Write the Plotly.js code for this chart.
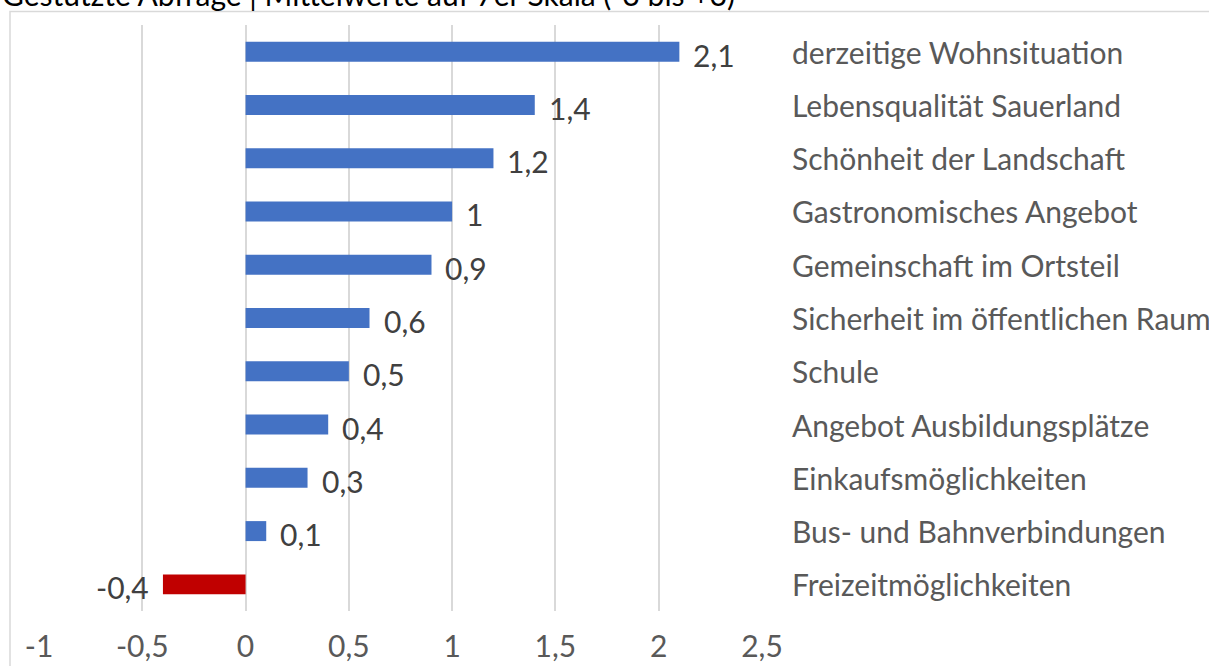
<!DOCTYPE html>
<html>
<head>
<meta charset="utf-8">
<script src="https://cdn.plot.ly/plotly-3.0.1.min.js"></script>
<style>
html,body{margin:0;padding:0;background:#fff;overflow:hidden;}
#chart{width:1209px;height:666px;}
</style>
</head>
<body>
<div id="chart"></div>
<script>
const categories = [
  "derzeitige Wohnsituation",
  "Lebensqualität Sauerland",
  "Schönheit der Landschaft",
  "Gastronomisches Angebot",
  "Gemeinschaft im Ortsteil",
  "Sicherheit im öffentlichen Raum",
  "Schule",
  "Angebot Ausbildungsplätze",
  "Einkaufsmöglichkeiten",
  "Bus- und Bahnverbindungen",
  "Freizeitmöglichkeiten"
];
const values = [2.1, 1.4, 1.2, 1.0, 0.9, 0.6, 0.5, 0.4, 0.3, 0.1, -0.4];
const valueLabels = ["2,1", "1,4", "1,2", "1", "0,9", "0,6", "0,5", "0,4", "0,3", "0,1", "-0,4"];
const tickValues = [-1, -0.5, 0, 0.5, 1, 1.5, 2, 2.5];
const tickLabels = ["-1", "-0,5", "0", "0,5", "1", "1,5", "2", "2,5"];
const titleText = "Gestützte Abfrage | Mittelwerte auf 7er Skala (-3 bis +3)";

const FONT = "Lato, 'Open Sans', sans-serif";
const W = 1209, H = 666;
const L = 39, R = 447, T = 25, B = 55;
const pw = W - L - R, ph = H - T - B;

const colors = values.map(v => v < 0 ? "#C00000" : "#4472C4");

const trace = {
  type: "bar",
  orientation: "h",
  x: values,
  y: categories,
  marker: {color: colors, line: {width: 0}},
  hoverinfo: "none"
};

const annotations = values.map((v, i) => ({
  x: v, y: categories[i], xref: "x", yref: "y",
  text: valueLabels[i], showarrow: false,
  xanchor: v < 0 ? "right" : "left",
  xshift: v < 0 ? -12 : 12, yshift: -3,
  font: {family: FONT, size: 30, color: "#404040"}
}));
categories.forEach(c => annotations.push({
  x: (790 - L) / pw, xref: "paper", xanchor: "left",
  y: c, yref: "y", yanchor: "middle", yshift: 0,
  text: c, showarrow: false,
  font: {family: FONT, size: 30, color: "#595959"}
}));
annotations.push({
  text: titleText, showarrow: false,
  xref: "paper", yref: "paper",
  x: (0 - L) / pw, xanchor: "left",
  y: 1 + (T + 6) / ph, yanchor: "middle",
  font: {family: FONT, size: 30, color: "#000000"}
});

const layout = {
  width: W, height: H,
  margin: {l: L, r: R, t: T, b: B, pad: 0},
  paper_bgcolor: "#ffffff", plot_bgcolor: "#ffffff",
  showlegend: false,
  bargap: 0.625,
  separators: ",.",
  font: {family: FONT, size: 30, color: "#595959"},
  xaxis: {
    range: [-1, 2.5],
    tickvals: tickValues, ticktext: tickLabels,
    showgrid: true, gridcolor: "#D9D9D9", gridwidth: 2,
    zeroline: false, showline: false,
    ticks: "outside", ticklen: 9, tickcolor: "rgba(0,0,0,0)",
    tickfont: {family: FONT, size: 30, color: "#595959"},
    fixedrange: true
  },
  yaxis: {
    autorange: "reversed",
    showticklabels: false,
    showgrid: false, zeroline: false, showline: false,
    fixedrange: true
  },
  annotations: annotations,
  shapes: [{
    type: "rect", xref: "paper", yref: "paper",
    x0: (10 - L) / pw, x1: (W + 20 - L) / pw,
    y0: -(B + 20) / ph, y1: 1 + (T - 11.5) / ph,
    line: {color: "#D9D9D9", width: 1.5}, fillcolor: "rgba(0,0,0,0)", layer: "below"
  }]
};

Plotly.newPlot("chart", [trace], layout, {displayModeBar: false, staticPlot: true});
</script>
</body>
</html>
